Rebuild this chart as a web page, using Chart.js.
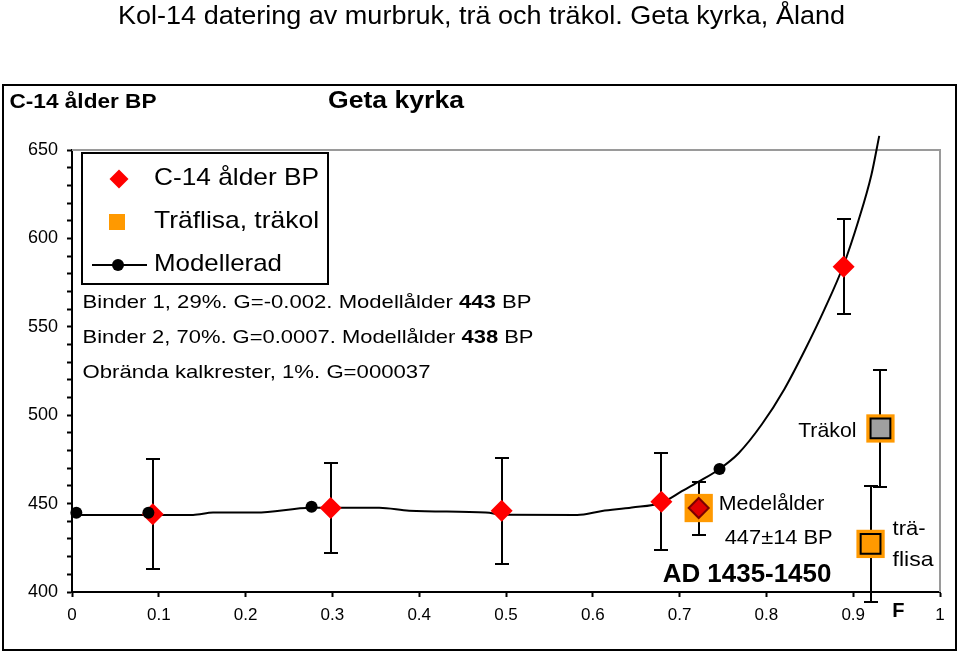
<!DOCTYPE html>
<html><head><meta charset="utf-8">
<script src="https://cdn.jsdelivr.net/npm/chart.js@4.4.1/dist/chart.umd.min.js"></script>
<style>html,body{margin:0;padding:0;background:#fff}canvas{display:block}</style>
</head><body>
<canvas id="c" width="960" height="652"></canvas>
<script>
// ---- data ----
const c14X   = [0.093, 0.298, 0.495, 0.679, 0.889];
const c14Y   = [444, 447.5, 446, 451, 584];
const c14Err = [31, 25.5, 30, 27.5, 27];

const medelX   = [0.722];
const medelY   = [447.5];
const medelErr = [15];

const traX    = [0.9314, 0.920];
const traY    = [492.5, 427.2];
const traErr  = [33, 33];
const traName = ['Träkol', 'träflisa'];

const modelDotX = [0.005, 0.088, 0.276, 0.746];
const modelDotY = [444.8, 444.8, 448.2, 469.6];

const modelLineX = [0.005, 0.088, 0.1395, 0.1625, 0.212, 0.276, 0.300, 0.354, 0.3885, 0.4766, 0.4996, 0.582, 0.6107, 0.645, 0.679, 0.7026, 0.722, 0.746, 0.768, 0.795, 0.821, 0.8445, 0.867, 0.8885, 0.906, 0.921, 0.930];
const modelLineY = [443.6, 443.6, 443.6, 444.9, 444.9, 447.7, 447.7, 447.7, 446.0, 444.9, 443.7, 443.6, 445.8, 447.8, 450.5, 457.0, 462.4, 469.6, 478.5, 495.0, 515.0, 537.0, 560.0, 584.4, 610.0, 636.0, 658.0];

const xTickStep = 0.1;
const yTickMajor = 50;
const yTickMinor = 10;

const FONT = '"Liberation Sans", Arial, Helvetica, sans-serif';
const ORANGE = '#FF9900';

const pts = (xs, ys) => xs.map((x, i) => ({x, y: ys[i]}));

// ---- helpers ----
function txt(ctx, s, x, y, font, opts = {}) {
  ctx.save();
  ctx.font = font;
  ctx.textBaseline = 'middle';
  ctx.fillStyle = '#000';
  const w = ctx.measureText(s).width;
  const sx = opts.width ? opts.width / w : 1;
  const align = opts.align || 'left';
  const x0 = align === 'left' ? x : align === 'center' ? x - w * sx / 2 : x - w * sx;
  ctx.translate(x0, y);
  ctx.scale(sx, 1);
  ctx.textAlign = 'left';
  ctx.fillText(s, 0, 0);
  ctx.restore();
}
function rich(ctx, parts, x, y, size, width) {
  ctx.save();
  ctx.textBaseline = 'middle';
  ctx.fillStyle = '#000';
  let total = 0;
  const ws = parts.map(([s, b]) => { ctx.font = (b ? 'bold ' : '') + size + 'px ' + FONT; const w = ctx.measureText(s).width; total += w; return w; });
  const sx = width ? width / total : 1;
  ctx.translate(x, y);
  ctx.scale(sx, 1);
  let cx = 0;
  parts.forEach(([s, b], i) => { ctx.font = (b ? 'bold ' : '') + size + 'px ' + FONT; ctx.fillText(s, cx, 0); cx += ws[i]; });
  ctx.restore();
}
function diamond(ctx, x, y, r, fill, stroke, lw) {
  ctx.beginPath();
  ctx.moveTo(x - r, y); ctx.lineTo(x, y - r); ctx.lineTo(x + r, y); ctx.lineTo(x, y + r); ctx.closePath();
  ctx.fillStyle = fill; ctx.fill();
  if (stroke) { ctx.strokeStyle = stroke; ctx.lineWidth = lw; ctx.stroke(); }
}

// ---- plugins ----
const decor = {
  id: 'decor',
  beforeDraw(chart) {
    const {ctx} = chart;
    ctx.save();
    ctx.fillStyle = '#fff';
    ctx.fillRect(0, 0, chart.width, chart.height);
    ctx.strokeStyle = '#000'; ctx.lineWidth = 2;
    ctx.strokeRect(3, 85, 953, 565);
    ctx.restore();
  },
  beforeDatasetsDraw(chart) {
    const {ctx, chartArea: a, scales: {x, y}} = chart;
    ctx.save();
    ctx.strokeStyle = '#9a9a9a'; ctx.lineWidth = 2;
    ctx.beginPath();
    ctx.moveTo(a.left, a.top); ctx.lineTo(a.right, a.top); ctx.lineTo(a.right, a.bottom);
    ctx.stroke();
    ctx.strokeStyle = '#000'; ctx.lineWidth = 2;
    const sets = [[c14X, c14Y, c14Err], [medelX, medelY, medelErr], [traX, traY, traErr]];
    for (const [xs, ys, es] of sets) {
      xs.forEach((xv, i) => {
        const px = Math.round(x.getPixelForValue(xv));
        const t = Math.round(y.getPixelForValue(ys[i] + es[i]));
        const b = Math.round(y.getPixelForValue(ys[i] - es[i]));
        ctx.beginPath();
        ctx.moveTo(px, t); ctx.lineTo(px, b);
        ctx.moveTo(px - 7, t); ctx.lineTo(px + 7, t);
        ctx.moveTo(px - 7, b); ctx.lineTo(px + 7, b);
        ctx.stroke();
      });
    }
    ctx.restore();
  },
  afterDraw(chart) {
    const {ctx, scales: {x, y}} = chart;
    ctx.save();
    txt(ctx, 'Kol-14 datering av murbruk, trä och träkol. Geta kyrka, Åland', 481.5, 16.5, '26px ' + FONT, {align: 'center', width: 727});
    txt(ctx, 'C-14 ålder BP', 9.5, 102.5, 'bold 21px ' + FONT, {width: 147});
    txt(ctx, 'Geta kyrka', 396, 102, 'bold 23px ' + FONT, {align: 'center', width: 136});

    ctx.fillStyle = '#fff';
    ctx.fillRect(82, 153, 246, 131);
    ctx.strokeStyle = '#000'; ctx.lineWidth = 2;
    ctx.strokeRect(82, 153, 246, 131);
    diamond(ctx, 119, 179, 9.5, '#FF0000');
    ctx.fillStyle = ORANGE; ctx.fillRect(109, 214, 16, 16);
    ctx.strokeStyle = '#000'; ctx.lineWidth = 2;
    ctx.beginPath(); ctx.moveTo(92, 265); ctx.lineTo(147, 265); ctx.stroke();
    ctx.fillStyle = '#000'; ctx.beginPath(); ctx.arc(118, 265, 6, 0, Math.PI * 2); ctx.fill();
    txt(ctx, 'C-14 ålder BP', 154, 178.5, '24px ' + FONT, {width: 165});
    txt(ctx, 'Träflisa, träkol', 154, 221.3, '24px ' + FONT, {width: 165});
    txt(ctx, 'Modellerad', 154, 264.7, '24px ' + FONT, {width: 128});

    rich(ctx, [['Binder 1, 29%. G=-0.002. Modellålder '], ['443', true], [' BP']], 82.5, 302.7, 19, 449);
    rich(ctx, [['Binder 2, 70%. G=0.0007. Modellålder '], ['438', true], [' BP']], 82.5, 337.5, 19, 451);
    rich(ctx, [['Obrända kalkrester, 1%. G=000037']], 82.5, 373, 19, 348);

    const tkx = x.getPixelForValue(traX[0]), tky = y.getPixelForValue(traY[0]);
    txt(ctx, 'Träkol', tkx - 24, tky + 3, '21px ' + FONT, {align: 'right', width: 58.3});
    const mx = x.getPixelForValue(medelX[0]), my = y.getPixelForValue(medelY[0]);
    txt(ctx, 'Medelålder', mx + 20, my - 3.5, '21px ' + FONT, {width: 105.7});
    txt(ctx, '447±14 BP', mx + 26, my + 29.8, '21px ' + FONT, {width: 108});
    txt(ctx, 'AD 1435-1450', mx - 36, my + 67.3, 'bold 25px ' + FONT, {width: 168.7});
    const fx = x.getPixelForValue(traX[1]), fy = y.getPixelForValue(traY[1]);
    txt(ctx, 'trä-', fx + 22, fy - 15, '21px ' + FONT, {width: 33});
    txt(ctx, 'flisa', fx + 22, fy + 16.5, '21px ' + FONT, {width: 41});
    txt(ctx, 'F', x.getPixelForValue(0.952), 611, 'bold 20px ' + FONT, {align: 'center'});
    ctx.restore();
  }
};

new Chart(document.getElementById('c'), {
  type: 'scatter',
  data: {
    datasets: [
      { label: 'Modellerad punkter', data: pts(modelDotX, modelDotY), pointStyle: 'circle', pointRadius: 6,
        backgroundColor: '#000', borderColor: '#000', borderWidth: 0, showLine: false, clip: false },
      { label: 'Medelålder', data: pts(medelX, medelY), pointStyle: 'rectRot', pointRadius: 10,
        backgroundColor: '#E00000', borderColor: '#7A0000', borderWidth: 2, clip: false },
      { label: 'Medelålder bakgrund', data: pts(medelX, medelY), pointStyle: 'rect', pointRadius: 20,
        backgroundColor: ORANGE, borderWidth: 0, clip: false },
      { label: 'C-14 ålder BP', data: pts(c14X, c14Y), pointStyle: 'rectRot', pointRadius: 11,
        backgroundColor: '#FF0000', borderWidth: 0, clip: false },
      { label: 'Träflisa, träkol (inre)', data: pts(traX, traY), pointStyle: 'rect', pointRadius: 14,
        backgroundColor: ['#A0A0A0', ORANGE], borderColor: '#000', borderWidth: 2, clip: false },
      { label: 'Träflisa, träkol', data: pts(traX, traY), pointStyle: 'rect', pointRadius: 20,
        backgroundColor: ORANGE, borderWidth: 0, clip: false },
      { label: 'Modellerad', data: pts(modelLineX, modelLineY), showLine: true, pointRadius: 0,
        borderColor: '#000', borderWidth: 2, cubicInterpolationMode: 'monotone', clip: false }
    ]
  },
  options: {
    responsive: false,
    animation: false,
    devicePixelRatio: 1,
    layout: { padding: { top: 150, right: 17, left: 0, bottom: 0 } },
    plugins: { legend: { display: false }, title: { display: false }, tooltip: { enabled: false } },
    events: [],
    scales: {
      x: {
        type: 'linear', min: 0, max: 1,
        afterFit: s => { s.height = 60; },
        ticks: { stepSize: xTickStep, color: '#000', padding: 8, maxRotation: 0, autoSkip: false,
          font: { family: FONT, size: 17 },
          callback: v => String(Math.round(v * 10) / 10) },
        grid: { drawOnChartArea: false, tickLength: 5, color: '#000', tickWidth: 2 },
        border: { display: true, color: '#000', width: 2 }
      },
      y: {
        type: 'linear', min: 400, max: 650,
        afterFit: s => { s.width = 72; },
        ticks: { stepSize: yTickMinor, color: '#000', padding: 9, autoSkip: false,
          font: { family: FONT, size: 18 },
          callback: v => (Math.round(v) % yTickMajor === 0 ? String(Math.round(v)) : '') },
        grid: { drawOnChartArea: false, tickLength: 5, color: '#000', tickWidth: 2 },
        border: { display: true, color: '#000', width: 2 }
      }
    }
  },
  plugins: [decor]
});
</script>
</body></html>
